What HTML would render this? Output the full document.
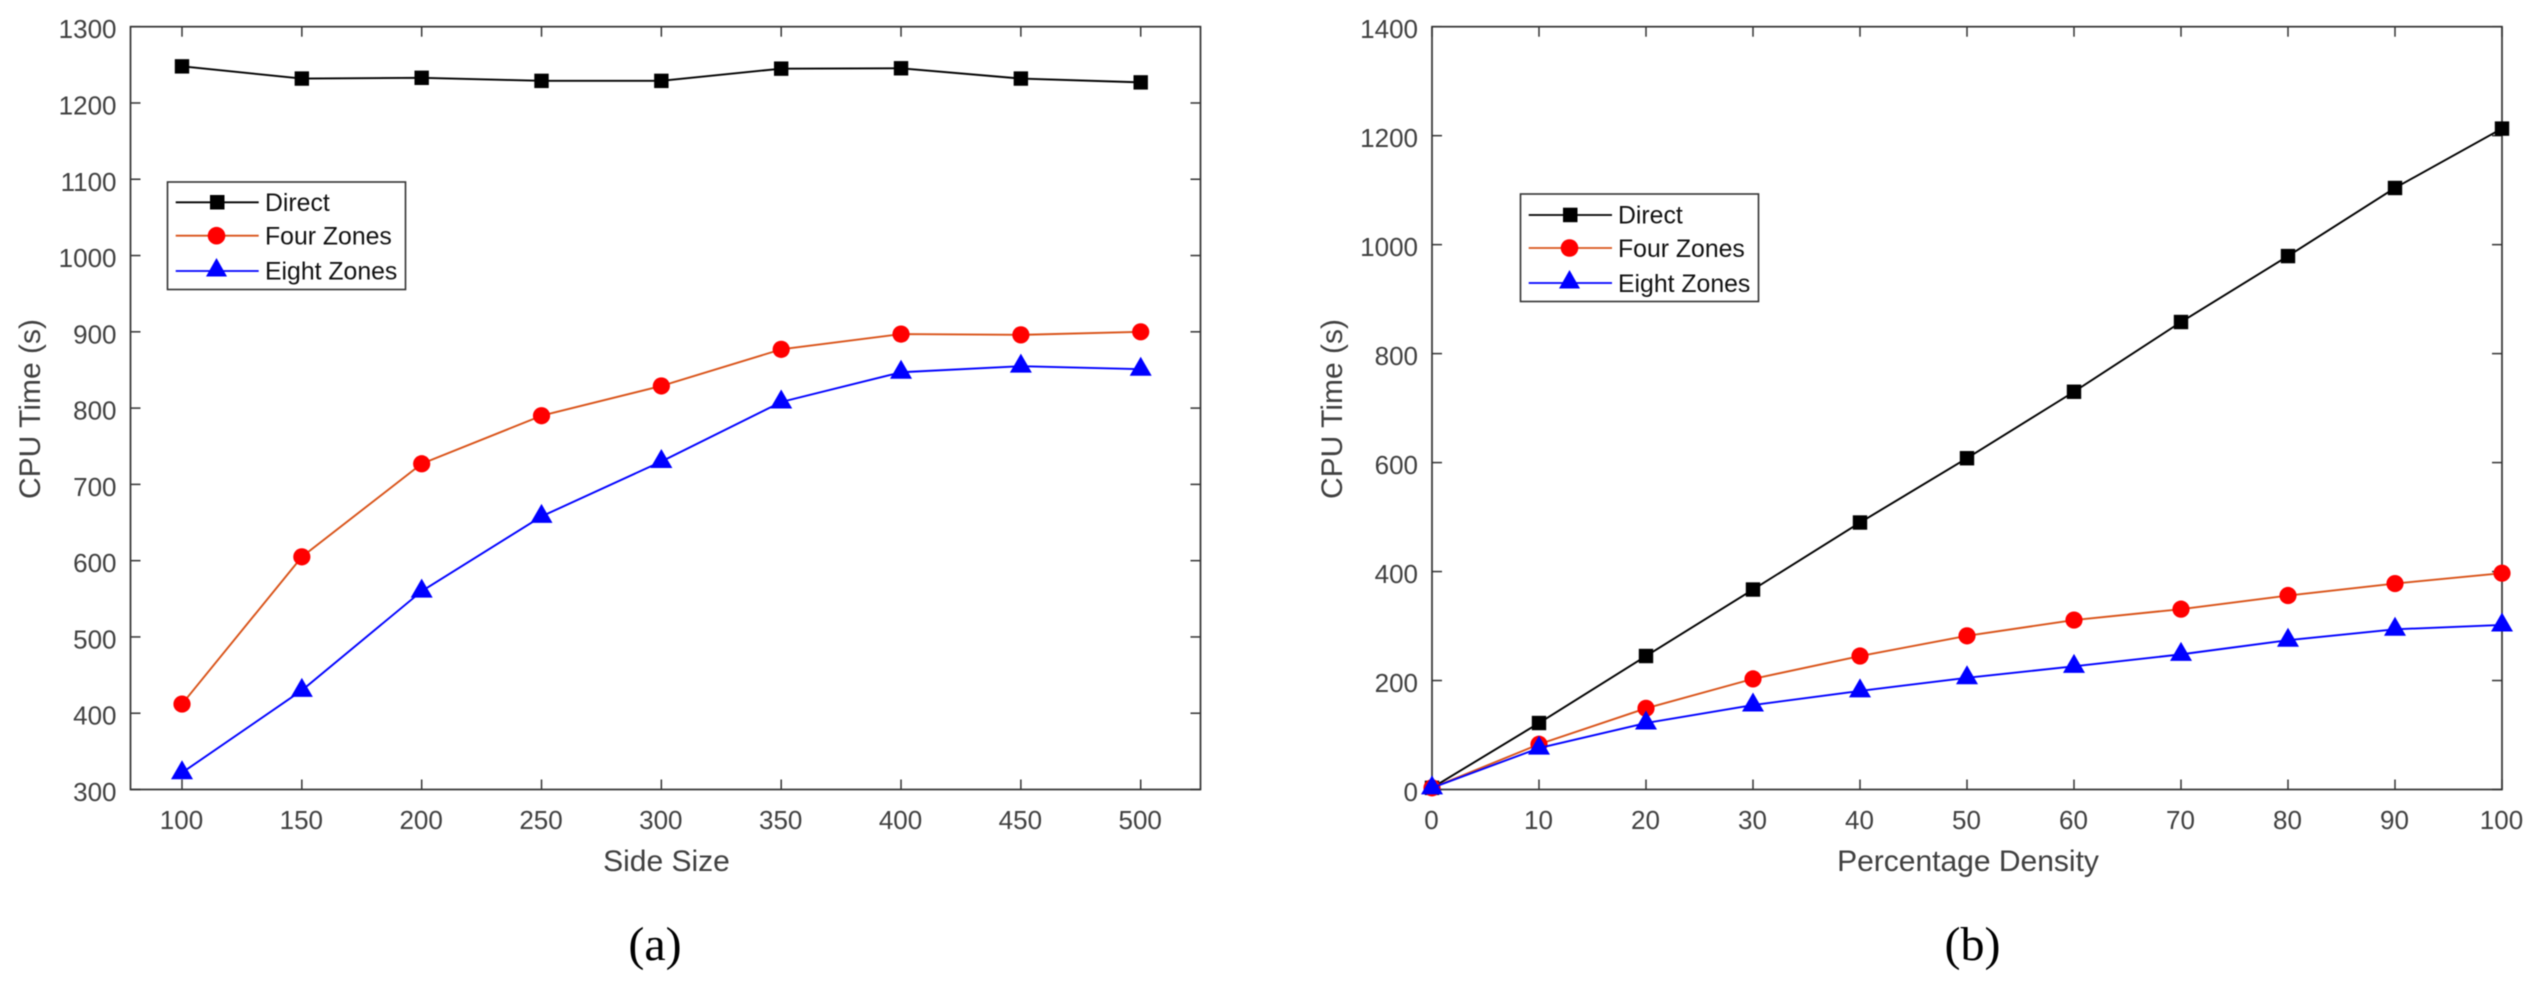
<!DOCTYPE html>
<html lang="en">
<head>
<meta charset="utf-8">
<title>CPU Time Charts</title>
<style>
html,body{margin:0;padding:0;background:#fff;width:2539px;height:992px;overflow:hidden}
svg{display:block;filter:blur(0.45px)}
text{font-family:"Liberation Sans",Arial,sans-serif}
</style>
</head>
<body>
<svg id="figure" xmlns="http://www.w3.org/2000/svg" width="2539" height="992" viewBox="0 0 2539 992">
  <rect width="2539" height="992" fill="#fff"/>
  <g id="chart-a"></g>
  <g id="chart-b"></g>
  <text x="666.5" y="871" font-size="30" fill="#404040" text-anchor="middle">Side Size</text>
  <text x="1968" y="871" font-size="30" fill="#404040" text-anchor="middle">Percentage Density</text>
  <text transform="translate(40 409) rotate(-90)" font-size="30" fill="#404040" text-anchor="middle">CPU Time (s)</text>
  <text transform="translate(1342 409) rotate(-90)" font-size="30" fill="#404040" text-anchor="middle">CPU Time (s)</text>
  <text x="655" y="960" font-size="48" fill="#000" text-anchor="middle" style="font-family:'Liberation Serif',serif">(a)</text>
  <text x="1972.5" y="960" font-size="48" fill="#000" text-anchor="middle" style="font-family:'Liberation Serif',serif">(b)</text>

  <g id="legend-a">
    <rect x="167.5" y="182" width="238" height="107.5" fill="#fff" stroke="#333" stroke-width="1.6"/>
    <line x1="175.7" x2="258.7" y1="202.3" y2="202.3" stroke="#000" stroke-width="1.8"/>
    <rect x="210" y="195" width="14.5" height="14.5" fill="#000"/>
    <text x="265" y="211" font-size="24.8" fill="#111">Direct</text>
    <line x1="175.7" x2="258.7" y1="235.7" y2="235.7" stroke="#d95319" stroke-width="1.8"/>
    <circle cx="216.5" cy="235.7" r="8.8" fill="#f00"/>
    <text x="265" y="244.5" font-size="24.8" fill="#111">Four Zones</text>
    <line x1="175.7" x2="258.7" y1="271" y2="271" stroke="#00f" stroke-width="1.8"/>
    <polygon points="216.5,258 227,276.5 206,276.5" fill="#00f"/>
    <text x="265" y="279.5" font-size="24.8" fill="#111">Eight Zones</text>
  </g>
  <g id="legend-b">
    <rect x="1520.5" y="194" width="238" height="107.5" fill="#fff" stroke="#333" stroke-width="1.6"/>
    <line x1="1528.7" x2="1612" y1="215" y2="215" stroke="#000" stroke-width="1.8"/>
    <rect x="1563" y="207.7" width="14.5" height="14.5" fill="#000"/>
    <text x="1618" y="223.5" font-size="24.8" fill="#111">Direct</text>
    <line x1="1528.7" x2="1612" y1="248" y2="248" stroke="#d95319" stroke-width="1.8"/>
    <circle cx="1569.5" cy="248" r="8.8" fill="#f00"/>
    <text x="1618" y="257" font-size="24.8" fill="#111">Four Zones</text>
    <line x1="1528.7" x2="1612" y1="283" y2="283" stroke="#00f" stroke-width="1.8"/>
    <polygon points="1569.5,270 1580,288.5 1559,288.5" fill="#00f"/>
    <text x="1618" y="292" font-size="24.8" fill="#111">Eight Zones</text>
  </g>
</svg>
<script>
const sideSizes = [100, 150, 200, 250, 300, 350, 400, 450, 500];
const aDirect = [1248, 1232, 1233, 1229, 1229, 1245, 1245.5, 1232, 1227];
const aFourZones = [412, 605, 727, 790, 829, 877, 897, 896, 900];
const aEightZones = [322, 430, 560, 658, 730, 808, 847, 855, 851];
const aXTicks = [100, 150, 200, 250, 300, 350, 400, 450, 500];
const aYTicks = [300, 400, 500, 600, 700, 800, 900, 1000, 1100, 1200, 1300];

const densities = [0, 10, 20, 30, 40, 50, 60, 70, 80, 90, 100];
const bDirect = [3, 122, 245, 367, 490, 608, 730, 858, 979, 1104, 1213];
const bFourZones = [3, 83, 149, 203, 245, 282, 311, 331, 356, 378, 397];
const bEightZones = [3, 76, 122, 155, 181, 205, 226, 248, 274, 294, 302];
const bXTicks = [0, 10, 20, 30, 40, 50, 60, 70, 80, 90, 100];
const bYTicks = [0, 200, 400, 600, 800, 1000, 1200, 1400];

const NS = 'http://www.w3.org/2000/svg';
function make(parent, tag, props) {
  const el = document.createElementNS(NS, tag);
  for (const k in props) el.setAttribute(k, props[k]);
  parent.appendChild(el);
  return el;
}

function drawAxes(group, prefix, box, sx, sy, xTicks, yTicks) {
  const frame = make(group, 'rect', {x: box.l, y: box.t, width: box.r - box.l, height: box.b - box.t, fill: 'none', stroke: '#333', 'stroke-width': 1.7});
  
  
  xTicks.forEach(function (v) {
    const x = sx(v);
    const bottomTick = make(group, 'line', {x1: x, x2: x, y1: box.b, y2: box.b - 10, stroke: '#333', 'stroke-width': 1.5});
    
    
    const topTick = make(group, 'line', {x1: x, x2: x, y1: box.t, y2: box.t + 10, stroke: '#333', 'stroke-width': 1.5});
    
    
    const label = make(group, 'text', {x: x - 0.5, y: 829, 'font-size': 26, fill: '#404040', 'text-anchor': 'middle'});
    label.textContent = v;
    
    
  });
  yTicks.forEach(function (v) {
    const y = sy(v);
    const leftTick = make(group, 'line', {x1: box.l, x2: box.l + 10, y1: y, y2: y, stroke: '#333', 'stroke-width': 1.5});
    
    
    const rightTick = make(group, 'line', {x1: box.r, x2: box.r - 10, y1: y, y2: y, stroke: '#333', 'stroke-width': 1.5});
    
    
    const label = make(group, 'text', {x: box.l - 14, y: y + 11.5, 'font-size': 26, fill: '#404040', 'text-anchor': 'end'});
    label.textContent = v;
    
    
  });
}

function seriesLine(group, xs, ys, sx, sy, color) {
  const pts = xs.map(function (x, i) { return sx(x) + ',' + sy(ys[i]); }).join(' ');
  return make(group, 'polyline', {points: pts, fill: 'none', stroke: color, 'stroke-width': 1.9, 'stroke-linejoin': 'round'});
}

function drawChart(group, prefix, box, sx, sy, xs, direct, four, eight) {
  const directLine = seriesLine(group, xs, direct, sx, sy, '#000');
  
  
  direct.forEach(function (v, i) {
    const m = make(group, 'rect', {x: sx(xs[i]) - 7.2, y: sy(v) - 7.2, width: 14.4, height: 14.4, fill: '#000'});
    
    
  });
  const fourLine = seriesLine(group, xs, four, sx, sy, '#d95319');
  
  
  four.forEach(function (v, i) {
    const m = make(group, 'circle', {cx: sx(xs[i]), cy: sy(v), r: 8.6, fill: '#f00'});
    
    
  });
  const eightLine = seriesLine(group, xs, eight, sx, sy, '#00f');
  
  
  eight.forEach(function (v, i) {
    const cx = sx(xs[i]);
    const cy = sy(v);
    const m = make(group, 'polygon', {points: cx + ',' + (cy - 12.5) + ' ' + (cx + 11) + ',' + (cy + 6.5) + ' ' + (cx - 11) + ',' + (cy + 6.5), fill: '#00f'});
    
    
  });
}

const boxA = {l: 130.5, r: 1200.5, t: 26.7, b: 789.5};
const sxA = function (v) { return 182 + (v - 100) * (1140.7 - 182) / 400; };
const syA = function (v) { return boxA.b - (v - 300) * (boxA.b - boxA.t) / 1000; };
const boxB = {l: 1432, r: 2502, t: 26.7, b: 789.5};
const sxB = function (v) { return boxB.l + v * (boxB.r - boxB.l) / 100; };
const syB = function (v) { return boxB.b - v * (boxB.b - boxB.t) / 1400; };

const groupA = document.getElementById('chart-a');
const groupB = document.getElementById('chart-b');
drawAxes(groupA, 'chart-a', boxA, sxA, syA, aXTicks, aYTicks);
drawChart(groupA, 'chart-a', boxA, sxA, syA, sideSizes, aDirect, aFourZones, aEightZones);
drawAxes(groupB, 'chart-b', boxB, sxB, syB, bXTicks, bYTicks);
drawChart(groupB, 'chart-b', boxB, sxB, syB, densities, bDirect, bFourZones, bEightZones);
</script>
</body>
</html>
